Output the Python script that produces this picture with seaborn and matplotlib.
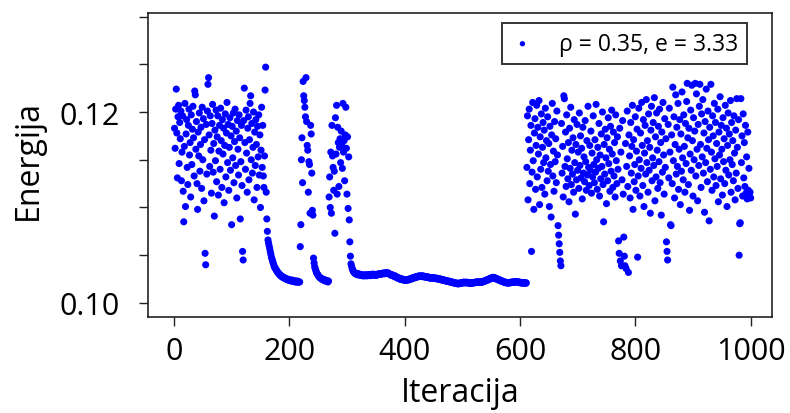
import numpy as np
import pandas as pd
import matplotlib
matplotlib.use("Agg")
import matplotlib.pyplot as plt
import seaborn as sns

# ---- data (energy per iteration) ----
seg_a = [
    0.1183, 0.1162, 0.1203, 0.1224, 0.1178, 0.1131, 0.1195, 0.1207, 0.1146, 0.1189,
    0.1172, 0.1201, 0.1128, 0.1158, 0.1196, 0.1117, 0.1085, 0.1164, 0.1209, 0.1101,
    0.1177, 0.1192, 0.1142, 0.1124, 0.1186, 0.1203, 0.1155, 0.1168, 0.1111, 0.1197,
    0.1145, 0.1182, 0.1206, 0.1173, 0.1133, 0.1222, 0.1218, 0.1161, 0.1190, 0.1125,
    0.1098, 0.1179, 0.1154, 0.1199, 0.1138, 0.1166, 0.1184, 0.1120, 0.1205, 0.1150,
    0.1193, 0.1107, 0.1171, 0.1052, 0.1040, 0.1187, 0.1135, 0.1201, 0.1229, 0.1236,
    0.1176, 0.1143, 0.1196, 0.1160, 0.1115, 0.1188, 0.1208, 0.1137, 0.1167, 0.1091,
    0.1181, 0.1149, 0.1202, 0.1127, 0.1174, 0.1196, 0.1113, 0.1159, 0.1186, 0.1140,
    0.1204, 0.1170, 0.1121, 0.1192, 0.1156, 0.1183, 0.1105, 0.1165, 0.1198, 0.1132,
    0.1178, 0.1210, 0.1147, 0.1187, 0.1118, 0.1163, 0.1194, 0.1139, 0.1175, 0.1082,
    0.1185, 0.1152, 0.1199, 0.1126, 0.1169, 0.1203, 0.1144, 0.1180, 0.1110, 0.1191,
    0.1161, 0.1134, 0.1197, 0.1173, 0.1088, 0.1148, 0.1186, 0.1123, 0.1054, 0.1045,
    0.1191, 0.1225, 0.1168, 0.1140, 0.1202, 0.1157, 0.1116, 0.1183, 0.1195, 0.1129,
    0.1171, 0.1209, 0.1217, 0.1150, 0.1188, 0.1136, 0.1163, 0.1200, 0.1108, 0.1179,
    0.1144, 0.1192, 0.1166, 0.1121, 0.1185, 0.1153, 0.1197, 0.1134, 0.1176, 0.1100,
    0.1160, 0.1205, 0.1142, 0.1186, 0.1133, 0.1121, 0.1154, 0.1223, 0.1247, 0.1116,
]
decay_1 = [
    0.1088, 0.1075, 0.1066, 0.1063, 0.1060, 0.1057, 0.1054, 0.1051, 0.1048, 0.1046,
    0.1044, 0.1042, 0.1040, 0.1038, 0.1037, 0.1036, 0.1035, 0.1034, 0.1033, 0.1032,
    0.1031, 0.1031, 0.1030, 0.1029, 0.1029, 0.1028, 0.1028, 0.1027, 0.1027, 0.1027,
    0.1026, 0.1026, 0.1026, 0.1025, 0.1025, 0.1025, 0.1025, 0.1024, 0.1024, 0.1024,
    0.1024, 0.1024, 0.1023, 0.1023, 0.1024, 0.1023, 0.1023, 0.1023, 0.1023, 0.1022,
    0.1023, 0.1022, 0.1022, 0.1023, 0.1022, 0.1022, 0.1022, 0.1022,
]
seg_b = [
    0.1059, 0.1082, 0.1150, 0.1173, 0.1126, 0.1232, 0.1217, 0.1212, 0.1205, 0.1195,
    0.1236, 0.1190, 0.1165, 0.1160, 0.1116, 0.1148, 0.1145, 0.1094, 0.1186, 0.1177,
    0.1136, 0.1097, 0.1092, 0.1047, 0.1042,
]
decay_2 = [
    0.1038, 0.1036, 0.1034, 0.1032, 0.1031, 0.1030, 0.1029, 0.1028, 0.1027, 0.1027,
    0.1026, 0.1026, 0.1025, 0.1025, 0.1025, 0.1024, 0.1024, 0.1024, 0.1023, 0.1024,
    0.1023, 0.1023, 0.1023, 0.1022, 0.1023,
]
seg_c = [
    0.1111, 0.1132, 0.1100, 0.1158, 0.1094, 0.1186, 0.1154, 0.1142, 0.1118, 0.1138,
    0.1073, 0.1194, 0.1156, 0.1207, 0.1114, 0.1184, 0.1168, 0.1122, 0.1163, 0.1172,
    0.1147, 0.1180, 0.1165, 0.1141, 0.1209, 0.1158, 0.1170, 0.1128, 0.1176, 0.1205,
    0.1162, 0.1114, 0.1174, 0.1099, 0.1153, 0.1087, 0.1064, 0.1049,
]
seg_d = [
    0.10410, 0.10385, 0.10362, 0.10348, 0.10331, 0.10322, 0.10318, 0.10309, 0.10312, 0.10301,
    0.10304, 0.10296, 0.10308, 0.10299, 0.10293, 0.10302, 0.10296, 0.10288, 0.10297, 0.10291,
    0.10285, 0.10294, 0.10289, 0.10283, 0.10292, 0.10287, 0.10296, 0.10290, 0.10284, 0.10293,
    0.10288, 0.10297, 0.10291, 0.10286, 0.10295, 0.10300, 0.10293, 0.10289, 0.10298, 0.10302,
    0.10295, 0.10291, 0.10299, 0.10294, 0.10288, 0.10296, 0.10301, 0.10297, 0.10305, 0.10299,
    0.10303, 0.10308, 0.10301, 0.10306, 0.10311, 0.10304, 0.10309, 0.10315, 0.10310, 0.10306,
    0.10312, 0.10318, 0.10313, 0.10309, 0.10316, 0.10311, 0.10305, 0.10299, 0.10302, 0.10294,
    0.10290, 0.10296, 0.10287, 0.10283, 0.10289, 0.10280, 0.10276, 0.10282, 0.10271, 0.10266,
    0.10270, 0.10262, 0.10258, 0.10263, 0.10254, 0.10249, 0.10255, 0.10247, 0.10252, 0.10243,
    0.10248, 0.10241, 0.10246, 0.10238, 0.10243, 0.10236, 0.10241, 0.10245, 0.10239, 0.10244,
    0.10249, 0.10243, 0.10251, 0.10247, 0.10255, 0.10259, 0.10253, 0.10261, 0.10266, 0.10260,
    0.10268, 0.10272, 0.10266, 0.10274, 0.10270, 0.10277, 0.10281, 0.10275, 0.10279, 0.10284,
    0.10278, 0.10283, 0.10276, 0.10281, 0.10285, 0.10279, 0.10274, 0.10280, 0.10272, 0.10277,
    0.10270, 0.10275, 0.10268, 0.10273, 0.10265, 0.10270, 0.10262, 0.10267, 0.10259, 0.10264,
    0.10262, 0.10267, 0.10260, 0.10265, 0.10258, 0.10263, 0.10256, 0.10261, 0.10254, 0.10258,
    0.10252, 0.10257, 0.10249, 0.10254, 0.10246, 0.10250, 0.10243, 0.10247, 0.10240, 0.10244,
    0.10237, 0.10241, 0.10234, 0.10238, 0.10231, 0.10235, 0.10228, 0.10232, 0.10225, 0.10229,
    0.10222, 0.10226, 0.10219, 0.10223, 0.10216, 0.10220, 0.10213, 0.10217, 0.10210, 0.10214,
    0.10207, 0.10211, 0.10204, 0.10208, 0.10202, 0.10206, 0.10199, 0.10204, 0.10208, 0.10203,
    0.10210, 0.10206, 0.10213, 0.10209, 0.10216, 0.10212, 0.10219, 0.10214, 0.10210, 0.10216,
    0.10212, 0.10218, 0.10213, 0.10208, 0.10214, 0.10209, 0.10204, 0.10210, 0.10205, 0.10211,
    0.10207, 0.10213, 0.10209, 0.10215, 0.10211, 0.10217, 0.10213, 0.10219, 0.10215, 0.10221,
    0.10217, 0.10223, 0.10218, 0.10214, 0.10220, 0.10216, 0.10222, 0.10218, 0.10224, 0.10220,
    0.10226, 0.10231, 0.10227, 0.10233, 0.10238, 0.10234, 0.10241, 0.10246, 0.10242, 0.10249,
    0.10254, 0.10250, 0.10257, 0.10262, 0.10258, 0.10265, 0.10269, 0.10263, 0.10267, 0.10261,
    0.10256, 0.10260, 0.10253, 0.10248, 0.10252, 0.10245, 0.10240, 0.10244, 0.10237, 0.10233,
    0.10236, 0.10229, 0.10225, 0.10229, 0.10222, 0.10218, 0.10222, 0.10215, 0.10212, 0.10216,
    0.10210, 0.10214, 0.10208, 0.10212, 0.10209, 0.10215, 0.10211, 0.10217, 0.10213, 0.10219,
    0.10215, 0.10220, 0.10216, 0.10222, 0.10218, 0.10223, 0.10219, 0.10224, 0.10220, 0.10217,
    0.10221, 0.10216, 0.10212, 0.10218, 0.10213, 0.10209, 0.10215, 0.10211, 0.10207, 0.10213,
    0.10209, 0.10214, 0.10210, 0.10206, 0.10211,
]
seg_e = [
    0.1142, 0.1196, 0.1108, 0.1171, 0.1203, 0.1125, 0.1160, 0.1186, 0.1054, 0.1137,
    0.1210, 0.1149, 0.1098, 0.1178, 0.1193, 0.1119, 0.1165, 0.1207, 0.1132, 0.1184,
    0.1156, 0.1212, 0.1103, 0.1174, 0.1140, 0.1198, 0.1121, 0.1163, 0.1189, 0.1147,
    0.1181, 0.1114, 0.1204, 0.1152, 0.1170, 0.1128, 0.1195, 0.1138, 0.1167, 0.1101,
    0.1185, 0.1145, 0.1090, 0.1176, 0.1209, 0.1133, 0.1159, 0.1117, 0.1190, 0.1148,
    0.1172, 0.1126, 0.1201, 0.1155, 0.1081, 0.1071, 0.1062, 0.1053, 0.1044, 0.1039,
    0.1188, 0.1136, 0.1164, 0.1111, 0.1217, 0.1214, 0.1143, 0.1179, 0.1122, 0.1197,
    0.1151, 0.1130, 0.1168, 0.1106, 0.1183, 0.1141, 0.1205, 0.1124, 0.1160, 0.1135,
    0.1173, 0.1116, 0.1192, 0.1147, 0.1093, 0.1166, 0.1129, 0.1187, 0.1139, 0.1158,
    0.1120, 0.1199, 0.1144, 0.1175, 0.1131, 0.1162, 0.1109, 0.1184, 0.1136, 0.1153,
    0.1127, 0.1191, 0.1148, 0.1118, 0.1170, 0.1134, 0.1206, 0.1142, 0.1123, 0.1165,
    0.1139, 0.1180, 0.1115, 0.1157, 0.1132, 0.1196, 0.1145, 0.1126, 0.1171, 0.1137,
    0.1208, 0.1150, 0.1119, 0.1163, 0.1141, 0.1188, 0.1112, 0.1155, 0.1130, 0.1177,
    0.1143, 0.1200, 0.1124, 0.1085, 0.1166, 0.1135, 0.1182, 0.1152, 0.1104, 0.1173,
    0.1128, 0.1194, 0.1146, 0.1161, 0.1117, 0.1185, 0.1138, 0.1202, 0.1156, 0.1121,
    0.1179, 0.1133, 0.1168, 0.1111, 0.1197, 0.1149, 0.1125, 0.1174, 0.1140, 0.1065,
    0.1052, 0.1183, 0.1044, 0.1158, 0.1039, 0.1129, 0.1191, 0.1114, 0.1069, 0.1049,
    0.1039, 0.1167, 0.1036, 0.1143, 0.1201, 0.1122, 0.1032, 0.1176, 0.1154, 0.1110,
    0.1189, 0.1136, 0.1164, 0.1207, 0.1098, 0.1171, 0.1127, 0.1145, 0.1195, 0.1118,
    0.1159, 0.1182, 0.1048, 0.1133, 0.1204, 0.1150, 0.1112, 0.1178, 0.1141, 0.1210,
    0.1165, 0.1123, 0.1192, 0.1101, 0.1157, 0.1186, 0.1135, 0.1213, 0.1147, 0.1170,
    0.1116, 0.1198, 0.1139, 0.1163, 0.1094, 0.1181, 0.1206, 0.1128, 0.1152, 0.1189,
    0.1144, 0.1215, 0.1107, 0.1174, 0.1132, 0.1199, 0.1160, 0.1120, 0.1185, 0.1148,
    0.1203, 0.1126, 0.1168, 0.1092, 0.1179, 0.1137, 0.1210, 0.1155, 0.1114, 0.1193,
    0.1142, 0.1172, 0.1064, 0.1054, 0.1045, 0.1187, 0.1131, 0.1204, 0.1158, 0.1082,
    0.1081, 0.1176, 0.1125, 0.1226, 0.1149, 0.1195, 0.1110, 0.1166, 0.1218, 0.1135,
    0.1184, 0.1143, 0.1209, 0.1119, 0.1161, 0.1192, 0.1103, 0.1177, 0.1138, 0.1221,
    0.1152, 0.1129, 0.1197, 0.1164, 0.1116, 0.1188, 0.1146, 0.1211, 0.1230, 0.1173,
    0.1124, 0.1183, 0.1097, 0.1156, 0.1202, 0.1139, 0.1228, 0.1170, 0.1112, 0.1194,
    0.1150, 0.1180, 0.1230, 0.1133, 0.1219, 0.1161, 0.1107, 0.1187, 0.1144, 0.1206,
    0.1229, 0.1166, 0.1121, 0.1198, 0.1153, 0.1213, 0.1136, 0.1178, 0.1095, 0.1190,
    0.1147, 0.1224, 0.1162, 0.1127, 0.1201, 0.1171, 0.1086, 0.1184, 0.1140, 0.1229,
    0.1158, 0.1118, 0.1196, 0.1175, 0.1132, 0.1209, 0.1151, 0.1189, 0.1123, 0.1167,
    0.1143, 0.1203, 0.1106, 0.1179, 0.1155, 0.1216, 0.1130, 0.1186, 0.1161, 0.1113,
    0.1194, 0.1148, 0.1172, 0.1125, 0.1207, 0.1139, 0.1183, 0.1101, 0.1165, 0.1199,
    0.1134, 0.1177, 0.1150, 0.1212, 0.1116, 0.1189, 0.1145, 0.1170, 0.1128, 0.1196,
    0.1157, 0.1108, 0.1181, 0.1136, 0.1214, 0.1163, 0.1120, 0.1192, 0.1050, 0.1083,
    0.1084, 0.1214, 0.1147, 0.1175, 0.1112, 0.1198, 0.1131, 0.1168, 0.1122, 0.1186,
    0.1115, 0.1153, 0.1109, 0.1179, 0.1118, 0.1141, 0.1112, 0.1116, 0.1110,
]

legend_label = "ρ = 0.35, e = 3.33"
x_label = "Iteracija"
y_label = "Energija"
x_ticks = [0, 200, 400, 600, 800, 1000]
y_ticks = [0.100, 0.105, 0.110, 0.115, 0.120, 0.125, 0.130]
y_tick_labels = ["0.10", "", "", "", "0.12", "", ""]

energy = np.array(seg_a + decay_1 + seg_b + decay_2 + seg_c + seg_d + seg_e)
iteration = np.arange(1, len(energy) + 1)
df = pd.DataFrame({"Iteracija": iteration, "Energija": energy})

# ---- style ----
sns.set_style("ticks")
plt.rcParams["font.family"] = ["Open Sans", "DejaVu Sans"]
plt.rcParams["text.color"] = "black"
plt.rcParams["axes.labelcolor"] = "black"

fig = plt.figure(figsize=(7.9, 4.14), dpi=100)
ax = fig.add_axes([148 / 790, 1 - 318 / 414, (772 - 148) / 790, (318 - 14) / 414])

sns.scatterplot(data=df, x="Iteracija", y="Energija", color="#0000FF", s=26,
                linewidth=0, edgecolor="none", label=legend_label, ax=ax)

ax.set_xlim(-45, 1037)
ax.set_ylim(0.09853, 0.13037)
ax.set_xticks(x_ticks)
ax.set_xticklabels([str(t) for t in x_ticks])
ax.set_yticks(y_ticks)
ax.set_yticklabels(y_tick_labels)

for sp in ax.spines.values():
    sp.set_visible(True)
    sp.set_color("#222222")
    sp.set_linewidth(1.2)

ax.tick_params(axis="both", direction="out", length=6.5, width=1.0, color="#222222",
               labelsize=22, labelcolor="black")
ax.tick_params(axis="x", pad=7)
ax.tick_params(axis="y", pad=14)

ax.set_xlabel(x_label, fontsize=23, color="black")
ax.set_ylabel(y_label, fontsize=23, color="black")
ax.xaxis.set_label_coords(0.5, -0.195)
ax.yaxis.set_label_coords(-0.166, 0.52)

leg = ax.legend(loc="upper right", bbox_to_anchor=(0.960, 0.967), borderaxespad=0,
                frameon=True, fancybox=False, edgecolor="black", fontsize=16.5,
                handlelength=1.0, handletextpad=1.1, borderpad=0.38, markerscale=0.75)
leg.get_frame().set_linewidth(1.4)
for t in leg.get_texts():
    t.set_color("black")

fig.savefig("out.png", dpi=100)
